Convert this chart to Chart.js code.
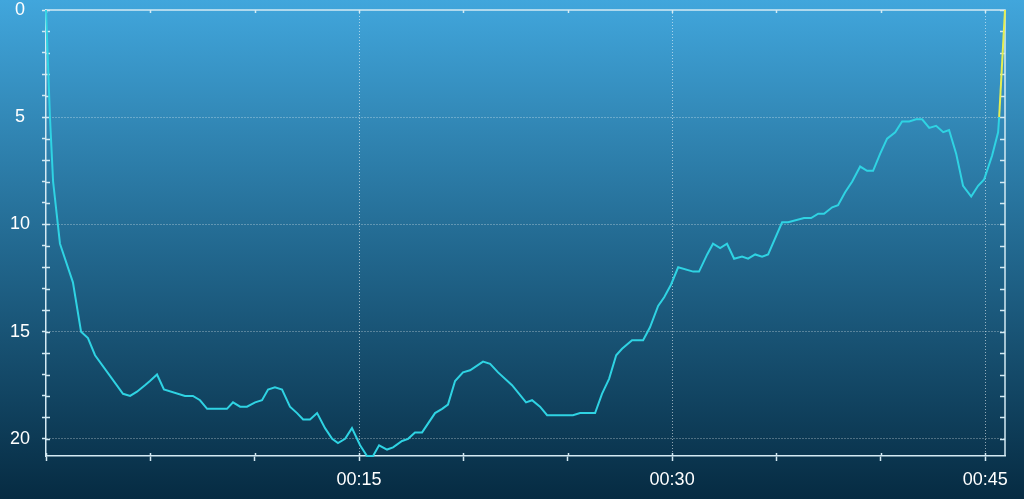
<!DOCTYPE html>
<html>
<head>
<meta charset="utf-8">
<script src="https://cdn.jsdelivr.net/npm/chart.js@4.4.1/dist/chart.umd.min.js"></script>
<style>
  html, body { margin: 0; padding: 0; background: #062b42; }
  #wrap { width: 1024px; height: 499px; }
</style>
</head>
<body>
<div id="wrap"><canvas id="dive" width="1024" height="499"></canvas></div>
<script>
// dive time in minutes / depth in metres
const timeMin = [
  0, 0.19, 0.34, 0.67, 1.29, 1.68, 2.01, 2.35, 3.69, 4.03, 4.36, 4.74, 4.98, 5.32, 5.65,
  6.66, 7.04, 7.38, 7.72, 8.67, 8.96, 9.30, 9.63, 10.02, 10.35, 10.64, 10.97, 11.31, 11.69,
  12.03, 12.32, 12.65, 12.99, 13.37, 13.71, 13.99, 14.33, 14.66, 15.05, 15.38, 15.67, 15.96,
  16.34, 16.63, 17.06, 17.35, 17.68, 18.02, 18.64, 18.98, 19.26, 19.60, 19.98, 20.32, 20.94,
  21.28, 21.66, 22.33, 23.00, 23.29, 23.67, 24.01, 25.25, 25.59, 26.31, 26.64, 26.98, 27.32,
  27.60, 28.08, 28.32, 28.61, 28.94, 29.33, 29.62, 29.95, 30.29, 31.01, 31.29, 31.68, 31.96,
  32.30, 32.63, 32.97, 33.35, 33.64, 33.98, 34.31, 34.60, 35.27, 35.56, 36.32, 36.66, 37.00,
  37.28, 37.67, 37.95, 38.29, 38.63, 39.01, 39.34, 39.63, 39.97, 40.30, 40.69, 41.02, 41.36,
  41.69, 41.98, 42.32, 42.65, 42.99, 43.27, 43.61, 43.94, 44.33, 44.66, 44.95, 45.33, 45.62,
  45.67
];
const depthM = [
  0, 5.0, 8.0, 10.9, 12.7, 15.0, 15.3, 16.1, 17.9, 18.0, 17.8, 17.5, 17.3, 17.0, 17.7,
  18.0, 18.0, 18.2, 18.6, 18.6, 18.3, 18.5, 18.5, 18.3, 18.2, 17.7, 17.6, 17.7, 18.5,
  18.8, 19.1, 19.1, 18.8, 19.5, 20.0, 20.2, 20.0, 19.5, 20.3, 20.8, 20.8, 20.3,
  20.5, 20.4, 20.1, 20.0, 19.7, 19.7, 18.8, 18.6, 18.4, 17.3, 16.9, 16.8, 16.4,
  16.5, 16.9, 17.5, 18.3, 18.2, 18.5, 18.9, 18.9, 18.8, 18.8, 17.9, 17.2, 16.1,
  15.8, 15.4, 15.4, 15.4, 14.8, 13.8, 13.4, 12.8, 12.0, 12.2, 12.2, 11.4, 10.9,
  11.1, 10.9, 11.6, 11.5, 11.6, 11.4, 11.5, 11.4, 9.9, 9.9, 9.7, 9.7, 9.5,
  9.5, 9.2, 9.1, 8.5, 8.0, 7.3, 7.5, 7.5, 6.7, 6.0, 5.7, 5.2, 5.2,
  5.1, 5.1, 5.5, 5.4, 5.7, 5.6, 6.7, 8.2, 8.7, 8.2, 7.9, 6.8, 5.7,
  5.0
];
// final ascent drawn in yellow
const ascentTime = [45.67, 45.95];
const ascentDepth = [5.0, 0];

const xTickValues = [0, 5, 10, 15, 20, 25, 30, 35, 40, 45];
const xLabelled = [15, 30, 45];
const yTickValues = [0, 1, 2, 3, 4, 5, 6, 7, 8, 9, 10, 11, 12, 13, 14, 15, 16, 17, 18, 19, 20];
const yLabelled = [0, 5, 10, 15, 20];
const xMax = 45.95;
const yMax = 20.8;

const axisColor = '#d4eaf3';
const gridColor = 'rgba(255,255,255,0.55)';
const fontFamily = '"Liberation Sans", Arial, sans-serif';

function fmtTime(m) {
  const h = Math.floor(m / 60);
  const mm = m % 60;
  return String(h).padStart(2, '0') + ':' + String(mm).padStart(2, '0');
}

function toPoints(xs, ys) {
  return xs.map((x, i) => ({ x: x, y: ys[i] }));
}

const backdrop = {
  id: 'backdrop',
  beforeDraw(chart) {
    const { ctx, width, height } = chart;
    const g = ctx.createLinearGradient(0, 0, 0, height);
    g.addColorStop(0, '#41a6dc');
    g.addColorStop(0.5, '#22688f');
    g.addColorStop(1, '#062b42');
    ctx.save();
    ctx.fillStyle = g;
    ctx.fillRect(0, 0, width, height);
    ctx.restore();
  }
};

// top / right frame plus the small inner tick stubs
const frame = {
  id: 'frame',
  beforeDatasetsDraw(chart) {
    const { ctx, chartArea: a, scales } = chart;
    ctx.save();
    ctx.strokeStyle = axisColor;
    ctx.lineWidth = 1.5;
    ctx.beginPath();
    ctx.moveTo(a.left, a.top);
    ctx.lineTo(a.right, a.top);
    ctx.lineTo(a.right, a.bottom);
    for (const v of xTickValues) {
      const px = Math.round(scales.x.getPixelForValue(v)) + 0.5;
      ctx.moveTo(px, a.top);
      ctx.lineTo(px, a.top + 3);
      ctx.moveTo(px, a.bottom);
      ctx.lineTo(px, a.bottom - 3);
    }
    for (const v of yTickValues) {
      const py = Math.round(scales.y.getPixelForValue(v)) + 0.5;
      ctx.moveTo(a.right - 5, py);
      ctx.lineTo(a.right, py);
      ctx.moveTo(a.left, py);
      ctx.lineTo(a.left + 4, py);
    }
    ctx.stroke();
    ctx.restore();
  }
};

new Chart(document.getElementById('dive'), {
  type: 'line',
  data: {
    datasets: [
      {
        label: 'Depth',
        data: toPoints(timeMin, depthM),
        borderColor: '#2fd3e3',
        borderWidth: 2,
        pointRadius: 0,
        tension: 0,
        clip: false
      },
      {
        label: 'Ascent',
        data: toPoints(ascentTime, ascentDepth),
        borderColor: '#e4ee52',
        borderWidth: 2,
        pointRadius: 0,
        tension: 0,
        clip: false
      }
    ]
  },
  options: {
    responsive: false,
    animation: false,
    devicePixelRatio: 1,
    layout: { padding: { left: 0, right: 19, top: 10, bottom: 0 } },
    plugins: {
      legend: { display: false },
      tooltip: { enabled: false }
    },
    scales: {
      x: {
        type: 'linear',
        min: 0,
        max: xMax,
        afterBuildTicks: (s) => { s.ticks = xTickValues.map((v) => ({ value: v })); },
        afterFit: (s) => { s.height = 43; s.paddingLeft = 0; s.paddingRight = 0; },
        ticks: {
          autoSkip: false,
          maxRotation: 0,
          color: '#ffffff',
          padding: 10,
          font: { family: fontFamily, size: 18, lineHeight: 1 },
          callback: (v) => (xLabelled.includes(v) ? fmtTime(v) : '')
        },
        grid: {
          color: (c) => (c.tick && xLabelled.includes(c.tick.value) ? gridColor : 'rgba(0,0,0,0)'),
          lineWidth: 1,
          tickColor: axisColor,
          tickLength: 5,
          tickWidth: 1.5
        },
        border: { display: true, color: axisColor, width: 1.5, dash: [1, 2] }
      },
      y: {
        type: 'linear',
        reverse: true,
        min: 0,
        max: yMax,
        afterBuildTicks: (s) => { s.ticks = yTickValues.map((v) => ({ value: v })); },
        afterFit: (s) => { s.width = 46; s.paddingTop = 0; s.paddingBottom = 0; },
        ticks: {
          autoSkip: false,
          color: '#ffffff',
          padding: 12,
          crossAlign: 'center',
          font: { family: fontFamily, size: 18, lineHeight: 1 },
          callback: (v) => (yLabelled.includes(v) ? String(v) : '')
        },
        grid: {
          color: (c) => (c.tick && c.tick.value > 0 && yLabelled.includes(c.tick.value) ? gridColor : 'rgba(0,0,0,0)'),
          lineWidth: 1,
          tickColor: axisColor,
          tickLength: 4,
          tickWidth: 1.5
        },
        border: { display: true, color: axisColor, width: 1.5, dash: [1, 2] }
      }
    }
  },
  plugins: [backdrop, frame]
});
</script>
</body>
</html>
